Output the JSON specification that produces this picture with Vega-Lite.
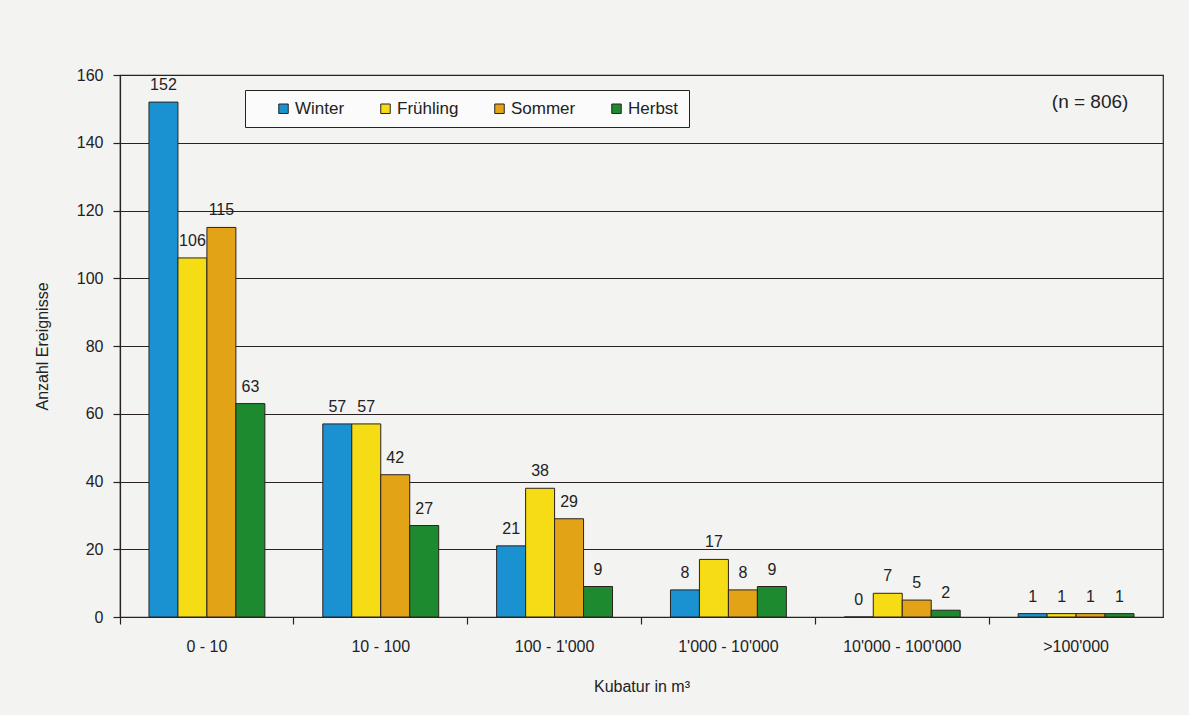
{
  "$schema": "https://vega.github.io/schema/vega-lite/v6.json",
  "width": 1043,
  "height": 542,
  "autosize": {"type": "none"},
  "padding": {"left": 120, "top": 75, "right": 26, "bottom": 98},
  "background": "#f3f3f2",
  "config": {
    "font": "Liberation Sans",
    "view": {"stroke": "#2a2220", "strokeWidth": 1.2},
    "axis": {
      "labelFont": "Liberation Sans", "titleFont": "Liberation Sans",
      "labelColor": "#222", "titleColor": "#222",
      "labelFontSize": 16, "titleFontSize": 16, "titleFontWeight": "normal",
      "domainColor": "#2a2220", "tickColor": "#2a2220", "gridColor": "#2a2220",
      "domainWidth": 1.2, "tickWidth": 1.2, "gridWidth": 1
    }
  },
  "data": {"values": [
    {"k": "0 - 10", "s": "Winter", "n": 152},
    {"k": "0 - 10", "s": "Frühling", "n": 106},
    {"k": "0 - 10", "s": "Sommer", "n": 115},
    {"k": "0 - 10", "s": "Herbst", "n": 63},
    {"k": "10 - 100", "s": "Winter", "n": 57},
    {"k": "10 - 100", "s": "Frühling", "n": 57},
    {"k": "10 - 100", "s": "Sommer", "n": 42},
    {"k": "10 - 100", "s": "Herbst", "n": 27},
    {"k": "100 - 1'000", "s": "Winter", "n": 21},
    {"k": "100 - 1'000", "s": "Frühling", "n": 38},
    {"k": "100 - 1'000", "s": "Sommer", "n": 29},
    {"k": "100 - 1'000", "s": "Herbst", "n": 9},
    {"k": "1'000 - 10'000", "s": "Winter", "n": 8},
    {"k": "1'000 - 10'000", "s": "Frühling", "n": 17},
    {"k": "1'000 - 10'000", "s": "Sommer", "n": 8},
    {"k": "1'000 - 10'000", "s": "Herbst", "n": 9},
    {"k": "10'000 - 100'000", "s": "Winter", "n": 0},
    {"k": "10'000 - 100'000", "s": "Frühling", "n": 7},
    {"k": "10'000 - 100'000", "s": "Sommer", "n": 5},
    {"k": "10'000 - 100'000", "s": "Herbst", "n": 2},
    {"k": ">100'000", "s": "Winter", "n": 1},
    {"k": ">100'000", "s": "Frühling", "n": 1},
    {"k": ">100'000", "s": "Sommer", "n": 1},
    {"k": ">100'000", "s": "Herbst", "n": 1}
  ]},
  "encoding": {
    "x": {
      "field": "k", "type": "nominal", "sort": null,
      "scale": {"paddingInner": 0, "paddingOuter": 0},
      "axis": {"title": "Kubatur in m³", "labelAngle": 0, "bandPosition": 0, "tickSize": 7,
               "labelPadding": 14, "titlePadding": 24}
    },
    "y": {
      "field": "n", "type": "quantitative",
      "scale": {"domain": [0, 160], "nice": false},
      "axis": {"title": "Anzahl Ereignisse", "values": [0, 20, 40, 60, 80, 100, 120, 140, 160],
               "tickSize": 7, "labelPadding": 10, "titlePadding": 26, "grid": true}
    }
  },
  "layer": [
    {
      "mark": {"type": "bar", "stroke": "#2a2220", "strokeWidth": 1},
      "encoding": {
        "xOffset": {
          "field": "s", "type": "nominal", "sort": ["Winter", "Frühling", "Sommer", "Herbst"],
          "scale": {"paddingInner": 0, "paddingOuter": 1}
        },
        "color": {
          "field": "s", "type": "nominal", "sort": ["Winter", "Frühling", "Sommer", "Herbst"],
          "scale": {"domain": ["Winter", "Frühling", "Sommer", "Herbst"],
                    "range": ["#1a91d1", "#f5dc14", "#e3a316", "#1e8a30"]},
          "legend": {
            "title": " ", "titleOrient": "left", "titlePadding": 20, "titleFontSize": 16,
            "orient": "none", "legendX": 125, "legendY": 15,
            "direction": "horizontal", "columns": 4, "columnPadding": 32,
            "symbolType": "square", "symbolSize": 90, "symbolStrokeColor": "#2a2220",
            "symbolStrokeWidth": 1, "symbolOpacity": 1,
            "labelFontSize": 17, "labelColor": "#222", "labelOffset": 3,
            "fillColor": "#fbfbfb", "strokeColor": "#2a2220", "padding": 10
          }
        }
      }
    },
    {
      "mark": {"type": "text", "baseline": "bottom", "dy": -9, "fontSize": 16, "color": "#222"},
      "encoding": {
        "xOffset": {
          "field": "s", "type": "nominal", "sort": ["Winter", "Frühling", "Sommer", "Herbst"],
          "scale": {"paddingInner": 0, "paddingOuter": 1}
        },
        "text": {"field": "n", "type": "quantitative"}
      }
    },
    {
      "data": {"values": [{"lbl": "(n = 806)", "k": ">100'000", "n": 152}]},
      "mark": {"type": "text", "fontSize": 19, "color": "#222", "dx": 14},
      "encoding": {
        "text": {"field": "lbl"}
      }
    }
  ]
}
